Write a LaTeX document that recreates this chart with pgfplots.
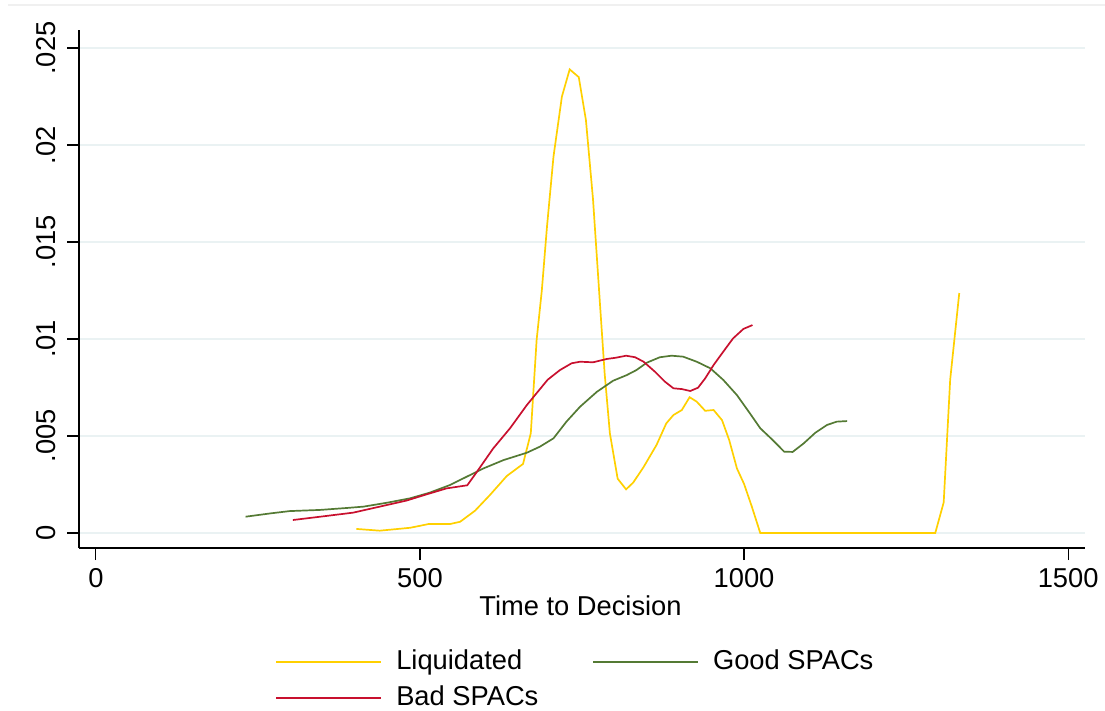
\documentclass[border=0pt]{standalone}
\usepackage{pgfplots}
\pgfplotsset{compat=1.18}
\usepackage{fontspec}
\setmainfont{Liberation Sans}
\definecolor{cliq}{RGB}{255,208,0}
\definecolor{cgood}{RGB}{84,122,52}
\definecolor{cbad}{RGB}{200,16,46}
\definecolor{cgrid}{RGB}{234,242,243}
\begin{document}
\fontsize{13.7}{16.5}\selectfont
\begin{tikzpicture}
\path[use as bounding box] (-39.5bp,-81.5bp) rectangle (513bp,274bp);
\draw[gray!12, line width=0.6bp] (-35.5bp,271.5bp) -- (513bp,271.5bp);
\begin{axis}[
  at={(0,0)}, anchor=south west,
  scale only axis, width=503bp, height=259bp,
  xmin=-26, xmax=1526, ymin=-0.000773, ymax=0.02593,
  axis x line=bottom, axis y line=left,
  axis line style={-, line width=0.6bp, black},
  tick align=outside, major tick length=6bp,
  tick style={line width=0.6bp, black},
  scaled y ticks=false, scaled x ticks=false,
  xtick={0,500,1000,1500}, xticklabels={0,500,1000,1500},
  ytick={0,0.005,0.01,0.015,0.02,0.025},
  yticklabels={0,.005,.01,.015,.02,.025},
  yticklabel style={xshift=-5.5bp, anchor=south, rotate=90, inner sep=0pt},
  xticklabel style={inner sep=0pt, yshift=-4bp},
  /pgf/number format/assume math mode=true,
  ymajorgrids, major grid style={cgrid, line width=0.8bp},
  xlabel={Time to Decision},
  xlabel style={at={(axis description cs:0.4985,0)}, anchor=north, yshift=-23.5bp, inner sep=0pt},
  clip=false,
  legend columns=2,
  legend style={at={(axis description cs:0.4945,-0.1885)}, anchor=north, draw=none, fill=none,
    /tikz/every odd column/.append style={column sep=5bp},
    /tikz/every even column/.append style={column sep=25bp},
    row sep=2bp, inner sep=0pt},
  legend cell align=left,
  legend image code/.code={\draw[#1] (0bp,0bp) -- (52.5bp,0bp);},
  every axis plot/.append style={line width=0.85bp},
]
\addplot[cliq, no marks] coordinates {
(402,0.00021) (438,0.00012) (485,0.00027) (513,0.00046) (546,0.00046) (562,0.00058)
(585,0.00115) (608,0.00196) (634,0.00294) (659,0.00356) (671,0.00514) (680,0.00995)
(688,0.0125) (696,0.0158) (706,0.0194) (719,0.0225) (731,0.0239) (745,0.0235)
(756,0.0213) (767,0.0172) (778,0.01167) (785,0.0082) (793,0.00514) (805,0.0028)
(818,0.00225) (829,0.0026) (845,0.0034) (865,0.00454) (880,0.00565) (891,0.00608)
(904,0.00634) (916,0.0070) (927,0.00677) (940,0.0063) (953,0.00634) (966,0.00582)
(977,0.0048) (989,0.00333) (1000,0.00253) (1012,0.00136) (1025,0) (1295,0)
(1308,0.00158) (1318,0.0079) (1332,0.01237)
};
\addlegendentry{Liquidated}
\addplot[cgood, no marks] coordinates {
(231,0.00084) (269,0.00101) (299,0.00113) (346,0.00119) (387,0.00129) (413,0.00136)
(449,0.00156) (485,0.00179) (515,0.00208) (546,0.00247) (572,0.0029) (598,0.00333)
(629,0.00376) (665,0.00414) (685,0.00445) (706,0.00488) (726,0.00574) (747,0.00651)
(773,0.00728) (798,0.00785) (819,0.00814) (834,0.0084) (850,0.00878) (870,0.00906)
(888,0.00914) (906,0.00909) (927,0.00883) (948,0.00849) (968,0.00789) (989,0.00711)
(1009,0.00617) (1025,0.0054) (1043,0.00483) (1062,0.00419) (1075,0.00418) (1092,0.00462)
(1110,0.00517) (1128,0.00557) (1143,0.00574) (1159,0.00577)
};
\addlegendentry{Good SPACs}
\addplot[cbad, no marks] coordinates {
(304,0.00067) (346,0.00084) (397,0.00105) (438,0.00136) (479,0.00167) (510,0.00199)
(541,0.0023) (573,0.00246) (588,0.00316) (613,0.00436) (639,0.0054) (665,0.0066)
(697,0.0079) (716,0.0084) (734,0.00875) (747,0.00883) (767,0.0088) (788,0.00897)
(803,0.00904) (818,0.00914) (832,0.00906) (845,0.00883) (863,0.0083) (878,0.0078)
(891,0.00746) (904,0.00742) (917,0.00732) (929,0.00749) (940,0.00797) (953,0.00866)
(968,0.00935) (983,0.01003) (999,0.01052) (1013,0.01072)
};
\addlegendentry{Bad SPACs}
\end{axis}
\end{tikzpicture}
\end{document}
